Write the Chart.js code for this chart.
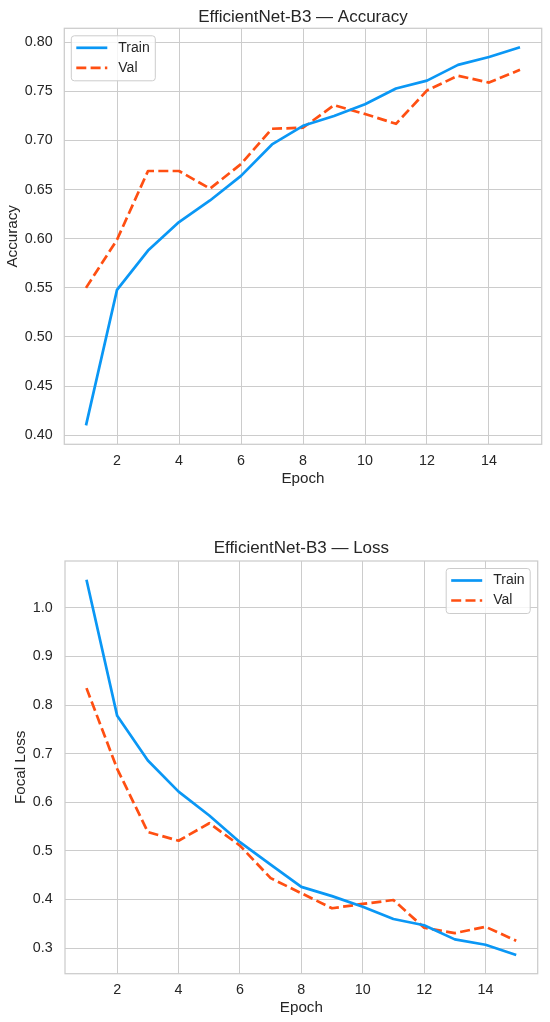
<!DOCTYPE html>
<html>
<head>
<meta charset="utf-8">
<script src="https://cdn.jsdelivr.net/npm/chart.js@4/dist/chart.umd.min.js"></script>
<style>
  html, body { margin: 0; padding: 0; background: #fff; overflow: hidden; }
  #wrap { position: relative; width: 550px; height: 1022px; }
  #chartAcc { position: absolute; left: 0; top: 0; }
  #chartLoss { position: absolute; left: 0; top: 500px; }
</style>
</head>
<body>
<div id="wrap">
  <canvas id="chartAcc" width="550" height="500"></canvas>
  <canvas id="chartLoss" width="550" height="522"></canvas>
</div>
<script>
const epochs    = [1, 2, 3, 4, 5, 6, 7, 8, 9, 10, 11, 12, 13, 14, 15];
const trainAcc  = [0.410, 0.548, 0.588, 0.617, 0.639, 0.664, 0.696, 0.715, 0.725, 0.737, 0.753, 0.761, 0.777, 0.785, 0.795];
const valAcc    = [0.550, 0.599, 0.669, 0.669, 0.651, 0.676, 0.712, 0.713, 0.736, 0.727, 0.717, 0.751, 0.766, 0.759, 0.772];
const trainLoss = [1.058, 0.778, 0.686, 0.622, 0.573, 0.518, 0.472, 0.426, 0.407, 0.385, 0.360, 0.347, 0.318, 0.307, 0.286];
const valLoss   = [0.835, 0.669, 0.539, 0.521, 0.557, 0.511, 0.444, 0.413, 0.382, 0.391, 0.399, 0.342, 0.331, 0.344, 0.315];
const xTicks    = [2, 4, 6, 8, 10, 12, 14];
const accTicks  = [0.40, 0.45, 0.50, 0.55, 0.60, 0.65, 0.70, 0.75, 0.80];
const lossTicks = [0.3, 0.4, 0.5, 0.6, 0.7, 0.8, 0.9, 1.0];

const blue   = '#0a97f5';
const orange = '#ff4f12';
const ink    = '#262626';
const gridC  = '#cccccc';
const fontFam   = '"Liberation Sans", Arial, sans-serif';
const tickSize  = 14.3;
const labelSize = 15.2;
const titleSize = 17;

Chart.defaults.font.family = fontFam;
Chart.defaults.color = ink;

// matplotlib-style 5% margins around the data
function padRange(values) {
  const lo = Math.min(...values), hi = Math.max(...values);
  const p = (hi - lo) * 0.05;
  return [lo - p, hi + p];
}
const toPts = (ys) => epochs.map((e, i) => ({ x: e, y: ys[i] }));

// title centred over the plot, frame around it, boxed legend inside it
const boxLegend = {
  id: 'boxLegend',
  afterDatasetsDraw(chart, args, opts) {
    const { ctx, chartArea: a } = chart;
    ctx.save();
    ctx.fillStyle = ink;
    ctx.font = titleSize + 'px ' + fontFam;
    ctx.textAlign = 'center';
    ctx.textBaseline = 'alphabetic';
    ctx.fillText(opts.title, (a.left + a.right) / 2, opts.titleBase);

    ctx.strokeStyle = gridC;
    ctx.lineWidth = 1.25;
    ctx.strokeRect(a.left, a.top, a.right - a.left, a.bottom - a.top);

    const w = 84, h = 45;
    const x = opts.corner === 'right' ? a.right - 7.5 - w : a.left + 7;
    const y = a.top + 7.5;
    ctx.beginPath();
    ctx.roundRect(x, y, w, h, 3);
    ctx.fillStyle = 'rgba(255,255,255,0.8)';
    ctx.fill();
    ctx.lineWidth = 1;
    ctx.stroke();
    ctx.textAlign = 'left';
    ctx.textBaseline = 'middle';
    ctx.font = '14px ' + fontFam;
    chart.data.datasets.forEach((ds, i) => {
      const ly = y + 12 + i * 20;
      ctx.beginPath();
      ctx.setLineDash(ds.borderDash || []);
      ctx.strokeStyle = ds.borderColor;
      ctx.lineWidth = ds.borderWidth;
      ctx.moveTo(x + 5, ly);
      ctx.lineTo(x + 36, ly);
      ctx.stroke();
      ctx.setLineDash([]);
      ctx.fillStyle = ink;
      ctx.fillText(ds.label, x + 47, ly);
    });
    ctx.restore();
  }
};

function makeChart(id, o) {
  const [ymin, ymax] = padRange(o.train.concat(o.val));
  return new Chart(document.getElementById(id), {
    type: 'line',
    data: {
      datasets: [
        { label: 'Train', data: toPts(o.train), borderColor: blue, borderWidth: 2.7,
          pointRadius: 0, tension: 0, borderJoinStyle: 'round' },
        { label: 'Val', data: toPts(o.val), borderColor: orange, borderWidth: 2.7,
          borderDash: [10, 4.3], pointRadius: 0, tension: 0, borderJoinStyle: 'round' }
      ]
    },
    options: {
      responsive: false,
      animation: false,
      layout: { padding: { left: 0, right: o.padRight, top: o.padTop, bottom: 0 } },
      plugins: {
        legend: { display: false },
        tooltip: { enabled: false },
        title: { display: false },
        boxLegend: { corner: o.corner, title: o.title, titleBase: o.titleBase }
      },
      scales: {
        x: {
          type: 'linear', min: 0.3, max: 15.7,
          afterBuildTicks: (s) => { s.ticks = xTicks.map(v => ({ value: v })); },
          afterFit: (s) => { s.height = o.xHeight; },
          grid: { color: gridC, lineWidth: 1, drawTicks: false },
          border: { display: false },
          ticks: { padding: o.xTickPad, font: { size: tickSize }, color: ink, maxRotation: 0 },
          title: { display: true, text: 'Epoch', color: ink, font: { size: labelSize },
                   padding: { top: 0, bottom: o.xTitlePad } }
        },
        y: {
          type: 'linear', min: ymin, max: ymax,
          afterBuildTicks: (s) => { s.ticks = o.yTicks.map(v => ({ value: v })); },
          afterFit: (s) => { s.width = o.yWidth; },
          grid: { color: gridC, lineWidth: 1, drawTicks: false },
          border: { display: false },
          ticks: { padding: o.yTickPad, font: { size: tickSize }, color: ink,
                   callback: (v) => v.toFixed(o.digits) },
          title: { display: true, text: o.yLabel, color: ink, font: { size: labelSize },
                   padding: { top: o.yTitlePad, bottom: 0 } }
        }
      }
    },
    plugins: [boxLegend]
  });
}

makeChart('chartAcc', {
  title: 'EfficientNet-B3 \u2014 Accuracy', yLabel: 'Accuracy',
  train: trainAcc, val: valAcc, yTicks: accTicks, digits: 2, corner: 'left',
  padRight: 8.3, padTop: 28.3, yWidth: 64.3, xHeight: 55.7, titleBase: 21.8,
  xTickPad: 8.1, xTitlePad: 11.6, yTickPad: 11.6, yTitlePad: 3.2
});

makeChart('chartLoss', {
  title: 'EfficientNet-B3 \u2014 Loss', yLabel: 'Focal Loss',
  train: trainLoss, val: valLoss, yTicks: lossTicks, digits: 1, corner: 'right',
  padRight: 12.3, padTop: 61, yWidth: 65, xHeight: 48.3, titleBase: 52.6,
  xTickPad: 7.7, xTitlePad: 4.6, yTickPad: 12.3, yTitlePad: 11.4
});
</script>
</body>
</html>
